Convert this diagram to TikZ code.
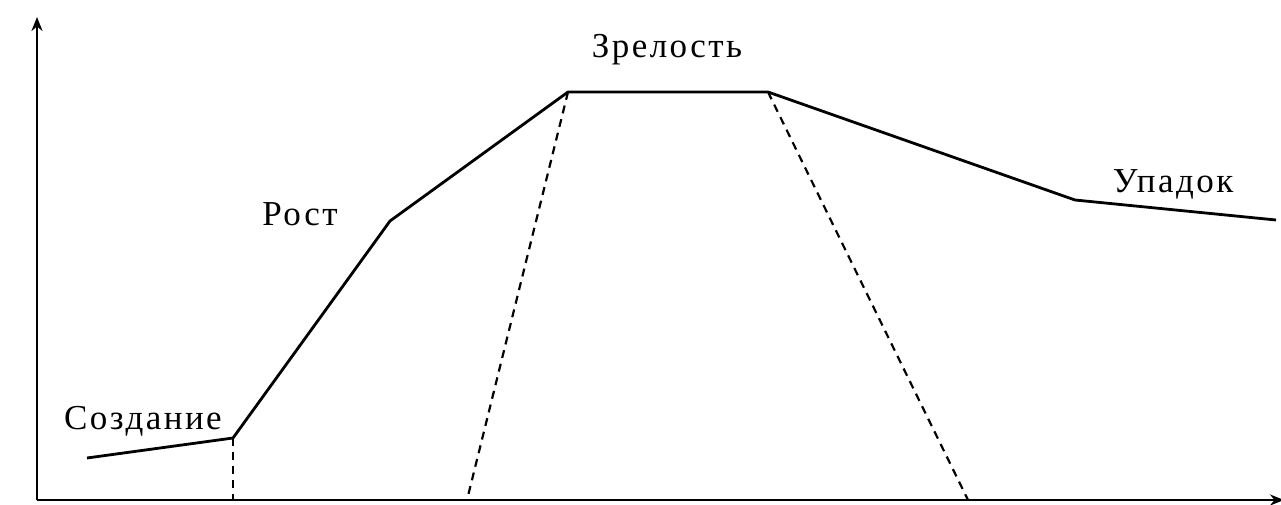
\documentclass[tikz,border=0pt]{standalone}
\usepackage{fontspec}
\setmainfont{Liberation Serif}[LetterSpace=7]
\usetikzlibrary{arrows.meta}
\begin{document}
\begin{tikzpicture}[x=1pt,y=-1pt,
  axis/.style={line width=2.6pt,-{Stealth[length=14pt,width=11pt]}},
  curve/.style={line width=2.8pt,line join=round},
  guide/.style={line width=2.2pt,dash pattern=on 8pt off 6pt},
  lbl/.style={font=\fontsize{35}{37}\selectfont,inner sep=0pt}]
\useasboundingbox (0,0) rectangle (1281,505);
\fill[white] (0,0) rectangle (1281,505);
\coordinate (o) at (37,500);
\coordinate (ytop) at (37,17);
\coordinate (xend) at (1284,500);
\coordinate (p0) at (87,458);
\coordinate (p1) at (233,438);
\coordinate (p2) at (390,221);
\coordinate (p3) at (568,92);
\coordinate (p4) at (768,92);
\coordinate (p5) at (1075,200);
\coordinate (p6) at (1276,220);
\coordinate (b1) at (233,500);
\coordinate (b3) at (467,500);
\coordinate (b4) at (968,500);
\draw[axis] (o) -- (ytop);
\draw[axis] (o) -- (xend);
\draw[curve] (p0) -- (p1) -- (p2) -- (p3) -- (p4) -- (p5) -- (p6);
\draw[guide] (p1) -- (b1);
\draw[guide] (p3) -- (b3);
\draw[guide] (p4) -- (b4);
\node[lbl,anchor=base] (t1) at (143,429) {Создание};
\node[lbl,anchor=base] (t2) at (300,225) {Рост};
\node[lbl,anchor=base] (t3) at (667,58) {Зрелость};
\node[lbl,anchor=base] (t4) at (1173,193) {Упадок};
\end{tikzpicture}
\end{document}
